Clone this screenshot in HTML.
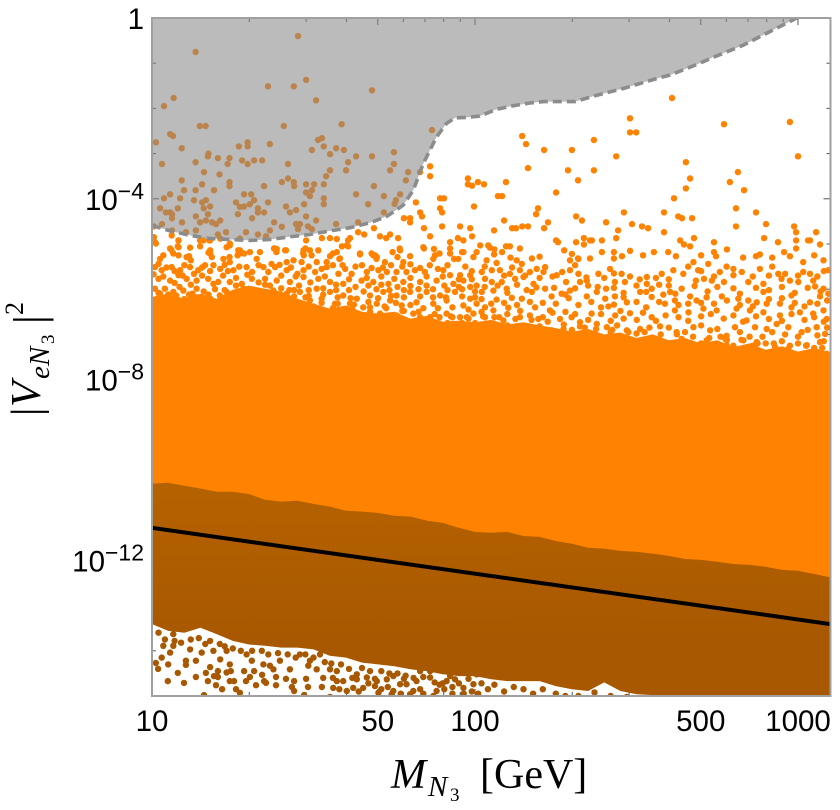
<!DOCTYPE html>
<html lang="en">
<head>
<meta charset="utf-8">
<title>Mixing versus heavy neutrino mass</title>
<style>
html,body{margin:0;padding:0;background:#fff;width:840px;height:810px;overflow:hidden}
svg{display:block}
.tick-label{font-family:"Liberation Sans",sans-serif;fill:#000}
.title{font-family:"Liberation Serif",serif;fill:#000}
</style>
</head>
<body>
<svg id="chart" xmlns="http://www.w3.org/2000/svg" width="840" height="810" viewBox="0 0 840 810">
  <defs>
    <clipPath id="plot-clip"><rect x="152" y="18" width="678.5" height="678"/></clipPath>
    <linearGradient id="brown-fill" gradientUnits="userSpaceOnUse" x1="0" y1="480" x2="0" y2="640">
      <stop offset="0" stop-color="#b56200"/><stop offset="1" stop-color="#a85800"/>
    </linearGradient>
  </defs>
  <rect x="0" y="0" width="840" height="810" fill="#fff"/>
  <g id="ticks"></g>
  <g id="marks" clip-path="url(#plot-clip)"></g>
  <g id="labels"></g>

  <g>
    <text class="title" x="391" y="788" font-size="42" font-style="italic">M</text>
    <text class="title" x="428" y="796" font-size="29" font-style="italic">N</text>
    <text class="title" x="450" y="801" font-size="19">3</text>
    <text class="title" x="480" y="788" font-size="42">[GeV]</text>
  </g>
  <g>
    <text class="title" transform="translate(40,416) rotate(-90)" font-size="42">|</text>
    <text class="title" transform="translate(40,407) rotate(-90)" font-size="42" font-style="italic">V</text>
    <text class="title" transform="translate(49,379) rotate(-90)" font-size="29" font-style="italic">e</text>
    <text class="title" transform="translate(49,366) rotate(-90)" font-size="29" font-style="italic">N</text>
    <text class="title" transform="translate(54,344) rotate(-90)" font-size="19">3</text>
    <text class="title" transform="translate(44,324) rotate(-90)" font-size="44">|</text>
    <text class="title" transform="translate(23,315) rotate(-90)" font-size="26">2</text>
  </g>
</svg>
<script>
// Axis ranges, in log10 units
const logMassRange = [1, 3.1006];
const logMixingRange = [0, -15];

// Tick data
const xMajorTicks = [10, 50, 100, 500, 1000];
const xMinorTicks = [20, 30, 40, 60, 70, 80, 90, 200, 300, 400, 600, 700, 800, 900];
const yTickExponents = [0, -1, -2, -3, -4, -5, -6, -7, -8, -9, -10, -11, -12, -13, -14];
const yLabelExponents = [0, -4, -8, -12];

// Densely filled bands: log10(mass) and log10(|V|^2) envelopes
const bandLogMass = [1.00,1.05,1.10,1.15,1.20,1.25,1.30,1.35,1.40,1.45,1.50,1.55,1.60,1.65,1.70,1.75,1.80,1.85,1.90,1.95,2.00,2.05,2.10,2.15,2.20,2.25,2.30,2.35,2.40,2.45,2.50,2.55,2.60,2.65,2.70,2.75,2.80,2.85,2.90,2.95,3.00,3.05,3.11];
const orangeTop = [-6.17,-6.10,-6.21,-6.10,-6.21,-6.01,-5.92,-5.99,-6.05,-6.21,-6.32,-6.43,-6.36,-6.50,-6.54,-6.50,-6.65,-6.59,-6.72,-6.70,-6.73,-6.68,-6.78,-6.73,-6.80,-6.86,-6.94,-6.88,-7.00,-6.96,-7.08,-7.00,-7.13,-7.08,-7.20,-7.13,-7.28,-7.20,-7.34,-7.26,-7.38,-7.30,-7.43];
const brownTop = [-10.30,-10.28,-10.35,-10.41,-10.48,-10.48,-10.53,-10.66,-10.70,-10.68,-10.75,-10.81,-10.90,-10.92,-10.95,-11.01,-11.03,-11.12,-11.17,-11.28,-11.37,-11.39,-11.37,-11.46,-11.48,-11.57,-11.63,-11.72,-11.74,-11.79,-11.81,-11.85,-11.90,-11.97,-11.99,-12.03,-12.08,-12.10,-12.14,-12.21,-12.23,-12.30,-12.39];
const brownBottom = [-13.41,-13.56,-13.60,-13.49,-13.63,-13.78,-13.86,-13.89,-13.93,-13.93,-13.97,-14.11,-14.15,-14.26,-14.30,-14.34,-14.41,-14.45,-14.52,-14.56,-14.56,-14.63,-14.67,-14.67,-14.67,-14.78,-14.85,-14.89,-14.70,-14.89,-14.96,-14.98,-15.00,-15.1,-15.1,-15.1,-15.1,-15.1,-15.1,-15.1,-15.1,-15.1,-15.1];

// Excluded region boundary
const boundaryLogMass = [1.000,1.056,1.118,1.180,1.241,1.303,1.365,1.427,1.489,1.551,1.613,1.675,1.727,1.778,1.809,1.840,1.881,1.912,1.938,1.974,2.015,2.067,2.119,2.170,2.212,2.263,2.310,2.366,2.459,2.552,2.604,2.686,2.738,2.831,2.913,2.996];
const boundaryLogMixing = [-4.59,-4.71,-4.81,-4.88,-4.90,-4.92,-4.90,-4.84,-4.79,-4.71,-4.64,-4.53,-4.39,-4.14,-3.81,-3.22,-2.63,-2.33,-2.21,-2.20,-2.17,-2.02,-1.94,-1.88,-1.85,-1.85,-1.85,-1.73,-1.56,-1.36,-1.26,-1.03,-0.87,-0.60,-0.30,0];

// Seesaw line
const lineLogMass = [1, 3.1006];
const lineLogMixing = [-11.28, -13.41];

// Individually resolved scatter points: [log10 mass, log10 |V|^2]
const excludedPoints = [[1.452,-0.40],[1.135,-0.75],[1.359,-1.51],[1.439,-1.51],[1.477,-1.37],[1.681,-1.60],[1.067,-1.77],[1.037,-1.95],[1.508,-1.82],[1.148,-2.39],[1.166,-2.39],[1.408,-2.39],[1.587,-2.35],[1.867,-2.48],[1.056,-2.57],[1.065,-2.61],[1.012,-2.75],[1.092,-2.88],[1.269,-2.84],[1.296,-2.75],[1.296,-2.84],[1.365,-2.79],[1.514,-2.70],[1.526,-2.66],[1.532,-2.84],[1.495,-2.92],[1.570,-2.88],[1.594,-2.92],[1.551,-3.01],[1.632,-3.06],[1.681,-3.06],[1.749,-2.97],[1.175,-3.00],[1.173,-3.06],[1.204,-3.10],[1.240,-3.10],[1.279,-3.15],[1.316,-3.15],[1.341,-3.15],[1.031,-3.23],[1.135,-3.19],[1.234,-3.23],[1.296,-3.23],[1.421,-3.23],[1.607,-3.19],[1.749,-3.23],[1.737,-3.37],[1.601,-3.37],[1.551,-3.37],[1.161,-3.41],[1.209,-3.46],[1.793,-3.41],[1.830,-3.41],[1.539,-3.50],[1.092,-3.59],[1.421,-3.55],[1.402,-3.63],[1.439,-3.63],[1.477,-3.68],[1.502,-3.68],[1.532,-3.68],[1.155,-3.68],[1.240,-3.63],[1.240,-3.72],[1.347,-3.72],[1.440,-3.72],[1.687,-3.72],[1.786,-3.59],[1.099,-3.81],[1.135,-3.81],[1.192,-3.81],[1.495,-3.81],[1.477,-3.86],[1.056,-3.90],[1.037,-3.99],[1.087,-3.99],[1.285,-3.90],[1.307,-3.90],[1.489,-3.94],[1.632,-3.90],[1.718,-3.94],[1.768,-3.90],[1.532,-3.99],[1.130,-4.03],[1.155,-4.08],[1.167,-4.03],[1.260,-4.08],[1.316,-4.03],[1.359,-4.08],[1.755,-4.03],[1.751,-4.11],[1.669,-4.12],[1.471,-4.12],[1.532,-4.12],[1.180,-4.17],[1.272,-4.18],[1.285,-4.17],[1.303,-4.12],[1.415,-4.17],[1.025,-4.21],[1.080,-4.21],[1.160,-4.21],[1.328,-4.21],[1.328,-4.30],[1.347,-4.30],[1.427,-4.30],[1.446,-4.25],[1.043,-4.30],[1.056,-4.30],[1.062,-4.34],[1.062,-4.43],[1.173,-4.34],[1.136,-4.39],[1.266,-4.34],[1.477,-4.39],[1.310,-4.43],[1.718,-4.30],[1.093,-4.52],[1.149,-4.52],[1.167,-4.48],[1.186,-4.52],[1.198,-4.56],[1.211,-4.48],[1.378,-4.52],[1.402,-4.62],[1.446,-4.56],[1.458,-4.56],[1.452,-4.67],[1.483,-4.61],[1.495,-4.67],[1.508,-4.48],[1.570,-4.56],[1.638,-4.52],[1.031,-4.56],[1.006,-4.61],[1.062,-4.70],[1.105,-4.74],[1.136,-4.70],[1.204,-4.79],[1.229,-4.74],[1.291,-4.74],[1.328,-4.79],[1.365,-4.70],[1.353,-4.83],[1.211,-4.88],[1.272,-4.88]];

const upperRightPoints = [[2.610,-1.77],[2.480,-2.22],[2.480,-2.53],[2.499,-2.53],[2.771,-2.35],[2.975,-2.30],[3.000,-3.06],[2.146,-2.61],[2.158,-2.79],[2.214,-2.92],[2.300,-2.92],[2.368,-2.70],[2.437,-3.06],[2.653,-3.19],[2.164,-3.32],[2.288,-3.37],[2.368,-3.37],[2.814,-3.41],[2.666,-3.55],[2.096,-3.63],[2.028,-3.68],[2.319,-3.59],[2.789,-3.63],[2.653,-3.77],[2.833,-3.81],[2.251,-3.86],[2.071,-3.94],[2.084,-3.94],[2.616,-3.99],[2.195,-4.21],[2.808,-4.21],[2.189,-4.34],[2.461,-4.30],[2.585,-4.30],[2.870,-4.30],[2.313,-4.39],[2.629,-4.39],[2.641,-4.43],[2.672,-4.43],[2.331,-4.48],[2.090,-4.48],[2.226,-4.52],[2.406,-4.52],[2.486,-4.56],[2.901,-4.56],[2.115,-4.65],[2.127,-4.65],[2.146,-4.61],[2.164,-4.61],[2.214,-4.65],[2.517,-4.61],[2.536,-4.65],[2.808,-4.61],[2.988,-4.61],[2.059,-4.70],[2.443,-4.70],[2.585,-4.74],[2.994,-4.74],[3.056,-4.74],[2.337,-4.87],[2.678,-4.87],[2.895,-4.87],[2.437,-4.87],[2.251,-4.92],[2.257,-4.96],[2.313,-4.96],[2.356,-4.92],[2.362,-4.92],[2.393,-4.92],[2.635,-4.92],[2.938,-4.96],[2.740,-4.96],[2.994,-4.92],[3.031,-4.92],[3.037,-4.92],[3.068,-5.01],[2.647,-5.01],[2.666,-5.05],[2.337,-5.01],[2.994,-5.10],[2.139,-5.10],[2.096,-5.05],[2.108,-5.05],[2.276,-5.14],[2.016,-5.03],[2.041,-5.03],[2.046,-5.08],[2.084,-5.18],[2.059,-5.23],[2.393,-5.18],[2.430,-5.18],[2.554,-5.18],[2.598,-5.18],[2.740,-5.18],[2.957,-5.18],[2.882,-5.23],[2.870,-5.27],[2.975,-5.27],[2.622,-5.27],[2.746,-5.27],[2.455,-5.27],[2.176,-5.32],[2.319,-5.32],[2.356,-5.32],[2.430,-5.32]];

const midLeftPoints = [[1.861,-3.28],[1.861,-3.50],[1.978,-3.55],[1.978,-3.68],[1.991,-3.71],[2.009,-3.63],[1.892,-3.99],[1.904,-3.99],[1.817,-4.08],[1.997,-4.17],[1.892,-4.21],[1.898,-4.30],[1.830,-4.30],[1.836,-4.39],[1.780,-4.43],[1.799,-4.43],[1.799,-4.52],[1.898,-4.61],[1.954,-4.61],[1.842,-4.65],[1.985,-4.65],[1.687,-4.65],[1.638,-4.74],[1.657,-4.79],[1.861,-4.83],[1.991,-4.83],[1.947,-4.87],[1.964,-4.92],[1.706,-4.83],[1.725,-4.87],[1.737,-4.79],[1.762,-4.87],[1.613,-4.87],[1.607,-4.92],[1.572,-4.89],[1.551,-4.87],[1.526,-4.87],[1.477,-4.92],[1.923,-4.96],[1.607,-5.05],[1.588,-5.05],[1.842,-5.10],[1.923,-5.10],[2.005,-5.18],[1.960,-5.18],[1.873,-5.11],[1.767,-5.10],[1.799,-5.27],[1.690,-5.25],[1.644,-5.23],[1.551,-5.27],[1.582,-5.32],[1.489,-5.14],[1.468,-5.21],[1.415,-5.14],[1.378,-5.10],[1.386,-5.11],[1.334,-5.18],[1.272,-5.14],[1.241,-5.03],[1.231,-5.07],[1.180,-5.14],[1.149,-5.05],[1.082,-4.92],[1.082,-5.07],[1.056,-5.10],[1.118,-5.08],[1.012,-4.99],[1.006,-4.85],[1.061,-4.81],[1.159,-4.92],[1.180,-4.92]];

const fringeLeftPoints = [[1.009,-4.96],[1.082,-4.92],[1.149,-4.92],[1.177,-4.92],[1.241,-4.99],[1.267,-5.14],[1.303,-5.18],[1.378,-5.10],[1.412,-5.14],[1.469,-5.14],[1.494,-5.25],[1.515,-5.14],[1.572,-5.18],[1.603,-5.03],[1.644,-5.21],[1.685,-5.25],[1.768,-5.14],[1.840,-5.07],[1.876,-5.25],[1.923,-5.21],[1.964,-5.18],[1.035,-5.25],[1.025,-5.33],[1.066,-5.21],[1.082,-5.25],[1.107,-5.29],[1.180,-5.21],[1.221,-5.33],[1.241,-5.40],[1.272,-5.21],[1.324,-5.33],[1.370,-5.44],[1.417,-5.40],[1.438,-5.36],[1.463,-5.40],[1.510,-5.40],[1.541,-5.40],[1.696,-5.29],[1.721,-5.40],[1.778,-5.40],[1.871,-5.33],[1.948,-5.33],[1.995,-5.29],[1.009,-5.51],[1.030,-5.58],[1.061,-5.51],[1.087,-5.58],[1.118,-5.51],[1.143,-5.58],[1.164,-5.47],[1.190,-5.47],[1.211,-5.55],[1.252,-5.58],[1.293,-5.51],[1.345,-5.51],[1.381,-5.51],[1.417,-5.58],[1.469,-5.58],[1.505,-5.62],[1.541,-5.51],[1.577,-5.66],[1.598,-5.55],[1.618,-5.66],[1.665,-5.62],[1.701,-5.58],[1.727,-5.62],[1.757,-5.62],[1.788,-5.62],[1.814,-5.58],[1.845,-5.62],[1.902,-5.58],[1.923,-5.69],[1.954,-5.69],[1.985,-5.69],[1.020,-5.77],[1.056,-5.81],[1.082,-5.69],[1.107,-5.77],[1.138,-5.81],[1.174,-5.77],[1.205,-5.84],[1.241,-5.84],[1.278,-5.88],[1.309,-5.77],[1.350,-5.77],[1.386,-5.81],[1.427,-5.84],[1.469,-5.73],[1.515,-5.77],[1.551,-5.84],[1.592,-5.88],[1.649,-5.81],[1.685,-5.84],[1.732,-5.88],[1.778,-5.84],[1.830,-5.84],[1.881,-5.81],[1.933,-5.88],[1.964,-5.81],[2.005,-5.92],[1.009,-5.99],[1.040,-5.99],[1.066,-6.06],[1.097,-6.03],[1.138,-5.99],[1.180,-6.21],[1.231,-6.06],[1.283,-5.99],[1.334,-6.06],[1.376,-6.03],[1.417,-6.10],[1.458,-6.06],[1.510,-5.99],[1.551,-6.06],[1.592,-6.14],[1.634,-6.21],[1.675,-6.14],[1.716,-6.06],[1.757,-6.14],[1.799,-6.06],[1.850,-6.06],[1.892,-6.14],[1.938,-6.06],[1.985,-6.21],[1.489,-6.25],[1.525,-6.21],[1.567,-6.32],[1.613,-6.32],[1.654,-6.40],[1.696,-6.32],[1.737,-6.25],[1.773,-6.36],[1.819,-6.29],[1.871,-6.32],[1.912,-6.25],[1.964,-6.36],[2.005,-6.32],[1.479,-6.47],[1.541,-6.54],[1.592,-6.54],[1.654,-6.62],[1.706,-6.54],[1.757,-6.58],[1.809,-6.54],[1.861,-6.62],[1.912,-6.54],[1.954,-6.62],[1.995,-6.54],[1.685,-6.77],[1.727,-6.77],[1.788,-6.77],[1.840,-6.73],[1.892,-6.77],[1.933,-6.77],[1.985,-6.80]];

const fringeRightPoints = [[2.036,-5.36],[2.067,-5.42],[2.052,-5.58],[2.077,-5.58],[2.021,-5.62],[2.145,-5.44],[2.129,-5.36],[2.108,-5.66],[2.139,-5.58],[2.191,-5.55],[2.217,-5.51],[2.212,-5.62],[2.294,-5.36],[2.320,-5.33],[2.294,-5.58],[2.320,-5.66],[2.382,-5.66],[2.418,-5.55],[2.454,-5.66],[2.578,-5.66],[2.614,-5.58],[2.645,-5.66],[2.676,-5.40],[2.691,-5.58],[2.722,-5.44],[2.758,-5.62],[2.779,-5.50],[2.800,-5.69],[2.826,-5.62],[2.882,-5.55],[2.939,-5.66],[2.960,-5.66],[3.016,-5.62],[3.037,-5.66],[3.016,-5.40],[3.079,-5.36],[3.094,-5.58],[2.031,-5.77],[2.052,-5.84],[2.083,-5.84],[2.124,-5.77],[2.150,-5.73],[2.181,-5.88],[2.217,-5.99],[2.253,-5.69],[2.282,-5.84],[2.325,-5.84],[2.346,-5.81],[2.406,-5.99],[2.433,-5.84],[2.464,-5.84],[2.532,-5.73],[2.532,-5.88],[2.547,-5.99],[2.640,-5.99],[2.684,-5.81],[2.709,-5.77],[2.733,-5.81],[2.771,-5.84],[2.846,-5.84],[2.893,-5.88],[2.949,-5.77],[2.975,-5.81],[3.001,-5.84],[3.047,-5.81],[3.053,-5.94],[3.079,-5.99],[2.021,-6.06],[2.057,-6.03],[2.098,-5.99],[2.067,-6.23],[2.114,-6.19],[2.145,-6.21],[2.176,-6.06],[2.237,-6.16],[2.268,-6.10],[2.294,-6.03],[2.346,-6.16],[2.377,-6.06],[2.403,-6.21],[2.433,-6.16],[2.470,-6.29],[2.511,-6.06],[2.547,-6.17],[2.583,-6.12],[2.604,-6.06],[2.588,-6.32],[2.619,-6.25],[2.666,-6.16],[2.686,-6.25],[2.717,-6.18],[2.764,-6.16],[2.815,-6.21],[2.846,-6.25],[2.872,-6.29],[2.893,-6.06],[2.903,-6.32],[2.944,-6.32],[2.980,-6.14],[3.037,-6.29],[3.068,-6.16],[3.094,-6.10],[2.031,-6.40],[2.057,-6.47],[2.103,-6.41],[2.031,-6.62],[2.088,-6.69],[2.139,-6.62],[2.186,-6.40],[2.196,-6.66],[2.232,-6.47],[2.263,-6.66],[2.299,-6.62],[2.325,-6.73],[2.361,-6.54],[2.413,-6.38],[2.434,-6.58],[2.480,-6.53],[2.501,-6.68],[2.547,-6.62],[2.619,-6.47],[2.661,-6.51],[2.707,-6.43],[2.748,-6.47],[2.810,-6.43],[2.851,-6.47],[2.893,-6.51],[2.944,-6.58],[2.980,-6.40],[3.006,-6.51],[3.047,-6.54],[3.079,-6.47],[3.089,-6.66],[2.057,-6.84],[2.139,-6.84],[2.237,-6.91],[2.274,-6.88],[2.377,-6.77],[2.408,-6.84],[2.470,-6.91],[2.511,-6.88],[2.573,-6.82],[2.624,-6.95],[2.676,-6.84],[2.728,-6.91],[2.779,-7.03],[2.805,-6.84],[2.841,-6.69],[2.867,-6.84],[2.903,-6.88],[2.934,-6.77],[2.970,-6.84],[3.011,-6.95],[3.058,-6.84],[3.084,-6.99],[2.655,-7.17],[2.717,-7.13],[2.779,-7.24],[2.831,-7.13],[2.872,-7.17],[2.929,-7.28],[2.970,-7.32],[3.027,-7.24],[3.068,-7.17],[3.089,-7.43]];

const denseLeftPoints = [[1.06,-5.13],[1.08,-5.05],[1.115,-5.27],[1.12,-5.36],[1.175,-5.19],[1.185,-5.29],[1.24,-5.29],[1.265,-5.25],[1.285,-5.21],[1.385,-5.18],[1.47,-5.25],[1.475,-5.10],[1.56,-5.21],[1.58,-5.33],[1.68,-5.21],[1.695,-5.33],[1.745,-5.18],[1.76,-5.29],[1.89,-5.21],[1.935,-5.33],[1.02,-5.44],[1.045,-5.52],[1.07,-5.60],[1.10,-5.47],[1.13,-5.66],[1.155,-5.52],[1.18,-5.60],[1.225,-5.46],[1.235,-5.60],[1.27,-5.50],[1.31,-5.62],[1.33,-5.47],[1.36,-5.62],[1.395,-5.46],[1.43,-5.52],[1.45,-5.66],[1.485,-5.50],[1.525,-5.55],[1.56,-5.47],[1.59,-5.47],[1.63,-5.50],[1.65,-5.47],[1.68,-5.53],[1.715,-5.52],[1.74,-5.47],[1.775,-5.50],[1.80,-5.45],[1.83,-5.53],[1.86,-5.47],[1.885,-5.55],[1.915,-5.47],[1.97,-5.50],[1.99,-5.60],[1.005,-5.67],[1.035,-5.72],[1.07,-5.86],[1.095,-5.70],[1.12,-5.90],[1.155,-5.70],[1.19,-5.88],[1.22,-5.70],[1.26,-5.75],[1.26,-5.92],[1.295,-5.68],[1.33,-5.85],[1.365,-5.92],[1.40,-5.70],[1.445,-5.72],[1.455,-5.92],[1.49,-5.85],[1.535,-5.72],[1.57,-5.90],[1.61,-5.78],[1.63,-5.95],[1.665,-5.75],[1.67,-5.92],[1.71,-5.72],[1.71,-5.90],[1.75,-5.77],[1.76,-5.95],[1.80,-5.75],[1.80,-5.93],[1.85,-5.72],[1.85,-5.92],[1.90,-5.72],[1.905,-5.92],[1.95,-5.78],[1.95,-5.95],[1.99,-5.78],[1.985,-5.95],[1.02,-6.08],[1.05,-6.12],[1.085,-5.95],[1.115,-6.12],[1.16,-6.05],[1.195,-6.00],[1.21,-6.14],[1.25,-6.10],[1.30,-6.02],[1.31,-6.15],[1.36,-6.12],[1.40,-5.98],[1.44,-6.02],[1.44,-6.16],[1.485,-6.02],[1.485,-6.15],[1.53,-5.98],[1.53,-6.12],[1.57,-6.02],[1.575,-6.18],[1.61,-6.02],[1.615,-6.20],[1.655,-6.05],[1.695,-6.00],[1.70,-6.20],[1.735,-6.02],[1.74,-6.15],[1.78,-6.02],[1.78,-6.18],[1.825,-6.00],[1.83,-6.16],[1.87,-6.00],[1.87,-6.18],[1.915,-6.02],[1.91,-6.18],[1.96,-6.00],[1.96,-6.16],[2.00,-6.05],[2.00,-6.18],[1.45,-6.30],[1.50,-6.38],[1.52,-6.50],[1.56,-6.42],[1.575,-6.60],[1.62,-6.45],[1.62,-6.60],[1.67,-6.28],[1.675,-6.50],[1.72,-6.38],[1.73,-6.62],[1.755,-6.30],[1.78,-6.48],[1.80,-6.35],[1.83,-6.62],[1.84,-6.42],[1.885,-6.42],[1.89,-6.62],[1.93,-6.40],[1.93,-6.62],[1.98,-6.45],[1.98,-6.65],[2.00,-6.75],[1.70,-6.72],[1.76,-6.75],[1.81,-6.78],[1.865,-6.80],[1.915,-6.75],[1.96,-6.75],[1.02,-6.2],[1.1,-6.22],[1.14,-6.18],[1.22,-6.22],[1.27,-6.15],[1.33,-6.25],[1.38,-6.2]];

const denseRightPoints = [[2.03,-5.50],[2.09,-5.70],[2.115,-5.52],[2.155,-5.70],[2.17,-5.62],[2.20,-5.75],[2.24,-5.72],[2.27,-5.62],[2.31,-5.47],[2.345,-5.74],[2.40,-5.75],[2.43,-5.65],[2.48,-5.72],[2.51,-5.78],[2.56,-5.75],[2.60,-5.78],[2.66,-5.50],[2.70,-5.60],[2.74,-5.72],[2.80,-5.55],[2.86,-5.72],[2.91,-5.70],[2.92,-5.50],[3.00,-5.70],[3.06,-5.72],[3.08,-5.60],[2.03,-5.95],[2.07,-5.92],[2.10,-6.08],[2.13,-5.90],[2.16,-6.02],[2.19,-5.96],[2.245,-5.97],[2.28,-6.12],[2.31,-5.98],[2.35,-5.92],[2.38,-5.95],[2.43,-5.97],[2.46,-6.08],[2.50,-5.92],[2.53,-6.06],[2.57,-5.90],[2.60,-5.92],[2.62,-6.10],[2.68,-5.93],[2.72,-6.05],[2.75,-5.95],[2.80,-5.98],[2.82,-6.10],[2.87,-5.97],[2.91,-6.02],[2.95,-5.95],[2.99,-6.08],[3.03,-5.97],[3.07,-6.05],[2.02,-6.22],[2.05,-6.32],[2.09,-6.30],[2.13,-6.35],[2.17,-6.28],[2.21,-6.30],[2.25,-6.32],[2.29,-6.20],[2.32,-6.35],[2.36,-6.28],[2.39,-6.40],[2.43,-6.34],[2.46,-6.18],[2.50,-6.28],[2.53,-6.40],[2.57,-6.28],[2.63,-6.35],[2.66,-6.32],[2.70,-6.30],[2.74,-6.32],[2.78,-6.25],[2.82,-6.35],[2.86,-6.38],[2.91,-6.22],[2.95,-6.20],[2.99,-6.30],[3.02,-6.38],[3.06,-6.32],[3.09,-6.25],[2.02,-6.50],[2.06,-6.62],[2.10,-6.55],[2.14,-6.48],[2.17,-6.58],[2.21,-6.62],[2.24,-6.52],[2.28,-6.50],[2.31,-6.55],[2.35,-6.68],[2.39,-6.55],[2.42,-6.70],[2.45,-6.48],[2.46,-6.65],[2.52,-6.52],[2.56,-6.70],[2.59,-6.58],[2.63,-6.62],[2.66,-6.70],[2.70,-6.60],[2.73,-6.55],[2.77,-6.65],[2.80,-6.58],[2.83,-6.72],[2.87,-6.60],[2.91,-6.66],[2.95,-6.70],[2.98,-6.55],[3.02,-6.68],[3.05,-6.62],[3.08,-6.72],[2.03,-6.85],[2.10,-6.80],[2.16,-6.85],[2.20,-6.82],[2.30,-6.90],[2.34,-6.85],[2.42,-6.95],[2.44,-6.80],[2.50,-6.98],[2.54,-6.85],[2.60,-6.85],[2.65,-6.95],[2.70,-6.80],[2.75,-6.88],[2.78,-7.12],[2.82,-6.95],[2.85,-7.05],[2.89,-7.05],[2.92,-6.95],[2.96,-7.00],[3.00,-7.05],[3.03,-6.90],[3.06,-7.02],[3.09,-6.85],[2.64,-7.10],[2.70,-7.20],[2.76,-7.05],[2.80,-7.25],[2.86,-7.25],[2.90,-7.20],[2.95,-7.15],[3.00,-7.20],[3.05,-7.30],[3.08,-7.15],[2.06,-5.12],[2.11,-5.30],[2.20,-5.28],[2.30,-5.22],[2.48,-5.15],[2.52,-5.25],[2.70,-5.25],[2.78,-5.12],[2.83,-5.30],[2.92,-5.30],[3.05,-5.25]];

const bandEdgePoints = [[1.025,-6.1],[1.075,-6.14],[1.125,-6.1],[1.175,-6.12],[1.225,-6.02],[1.35,-5.9],[1.425,-6.02],[1.475,-6.18],[1.525,-6.3],[1.575,-6.32],[1.625,-6.34],[1.675,-6.4],[1.725,-6.42],[1.775,-6.48],[1.825,-6.5],[1.875,-6.55],[1.925,-6.6],[1.975,-6.62],[2.025,-6.6],[2.075,-6.62],[2.125,-6.66],[2.175,-6.68],[2.225,-6.72],[2.275,-6.78],[2.325,-6.82],[2.375,-6.88],[2.425,-6.9],[2.475,-6.95],[2.525,-6.95],[2.575,-7.0],[2.625,-7.0],[2.675,-7.05],[2.725,-7.08],[2.775,-7.1],[2.825,-7.12],[2.875,-7.2],[2.925,-7.2],[2.975,-7.25],[3.025,-7.25],[3.075,-7.3]];

const brownPoints = [[1.049,-14.67],[1.099,-14.71],[1.136,-14.58],[1.080,-14.49],[1.019,-14.40],[1.012,-14.27],[1.050,-14.30],[1.105,-14.22],[1.105,-14.31],[1.136,-14.22],[1.180,-14.36],[1.167,-14.49],[1.204,-14.45],[1.192,-14.56],[1.204,-14.58],[1.173,-14.67],[1.198,-14.76],[1.217,-14.85],[1.241,-14.67],[1.254,-14.67],[1.260,-14.85],[1.272,-14.93],[1.161,-14.98],[1.241,-14.30],[1.231,-14.48],[1.244,-14.45],[1.285,-14.45],[1.291,-14.67],[1.303,-14.58],[1.322,-14.76],[1.316,-14.45],[1.341,-14.53],[1.347,-14.67],[1.353,-14.71],[1.384,-14.76],[1.384,-14.58],[1.415,-14.62],[1.440,-14.67],[1.433,-14.80],[1.440,-14.89],[1.477,-14.62],[1.483,-14.80],[1.471,-14.98],[1.526,-14.80],[1.551,-15.02],[1.510,-14.41],[1.489,-14.22],[1.484,-14.33],[1.427,-14.41],[1.376,-14.41],[1.365,-14.33],[1.345,-14.30],[1.309,-14.22],[1.211,-14.19],[1.056,-14.04],[1.030,-14.15],[1.066,-13.63],[1.035,-13.89],[1.066,-13.89],[1.118,-13.97],[1.154,-14.04],[1.190,-14.00],[1.231,-14.00],[1.293,-14.08],[1.396,-14.22],[1.458,-14.08],[1.520,-14.08],[1.551,-14.41],[1.572,-14.45],[1.592,-14.67],[1.572,-14.67],[1.561,-14.82],[1.603,-14.89],[1.634,-14.52],[1.634,-14.63],[1.623,-14.82],[1.654,-14.82],[1.665,-14.59],[1.690,-14.78],[1.701,-14.93],[1.747,-14.89],[1.727,-14.63],[1.747,-14.56],[1.768,-14.74],[1.788,-14.74],[1.809,-14.89],[1.819,-14.67],[1.861,-14.59],[1.881,-14.89],[1.912,-14.67],[1.938,-14.63],[1.964,-14.82],[1.995,-14.74],[2.005,-14.52],[1.979,-14.45],[1.923,-14.56],[1.861,-14.45],[1.830,-14.45],[1.696,-14.67],[1.742,-14.96],[1.871,-15.00],[1.799,-14.96]];

const brownEdgePoints = [[1.02,-13.6],[1.04,-13.75],[1.07,-13.78],[1.09,-13.82],[1.12,-13.75],[1.145,-13.72],[1.165,-13.85],[1.18,-13.78],[1.21,-13.85],[1.225,-13.9],[1.25,-13.95],[1.275,-14.0],[1.31,-14.0],[1.34,-14.0],[1.36,-14.08],[1.39,-14.05],[1.42,-14.08],[1.445,-14.15],[1.475,-14.08],[1.50,-14.15],[1.535,-14.25],[1.555,-14.28],[1.585,-14.3],[1.61,-14.4],[1.65,-14.38],[1.675,-14.45],[1.71,-14.45],[1.735,-14.5],[1.76,-14.5],[1.785,-14.55],[1.81,-14.6],[1.84,-14.58],[1.875,-14.7],[1.90,-14.72],[1.93,-14.8],[1.95,-14.72],[1.98,-14.62],[2.02,-14.72],[2.04,-14.85],[2.06,-14.75],[2.09,-14.9],[2.12,-14.8],[2.15,-14.85],[2.18,-14.95],[2.21,-14.85],[2.25,-14.95],[2.28,-15.0],[2.32,-15.0],[2.37,-14.92],[2.42,-15.0],[2.47,-15.02],[1.53,-14.6],[1.56,-14.6],[1.58,-14.85],[1.64,-14.9],[1.67,-14.72],[1.71,-14.85],[1.73,-14.8],[1.77,-14.95],[1.83,-14.85],[1.84,-14.95],[1.89,-14.75],[1.905,-14.85],[1.93,-14.95],[1.965,-14.95],[1.99,-14.9],[2.01,-14.95],[1.78,-14.62],[1.62,-14.6],[1.69,-14.62]];

const NS = 'http://www.w3.org/2000/svg';
const plotLeft = 152, plotRight = 830.5, plotTop = 18, plotBottom = 696;
const ORANGE = '#ff8200', DOT_R = 3.2;

function xScale(logM) {
  return plotLeft + (logM - logMassRange[0]) / (logMassRange[1] - logMassRange[0]) * (plotRight - plotLeft);
}
function yScale(logV) {
  return plotTop + (logV - logMixingRange[0]) / (logMixingRange[1] - logMixingRange[0]) * (plotBottom - plotTop);
}
function make(tag, attrs, parent) {
  const el = document.createElementNS(NS, tag);
  for (const k in attrs) el.setAttribute(k, attrs[k]);
  parent.appendChild(el);
  return el;
}
function coords(xs, ys) {
  return xs.map((m, i) => xScale(m).toFixed(1) + ',' + yScale(ys[i]).toFixed(1));
}

const ticksG = document.getElementById('ticks');
const marksG = document.getElementById('marks');
const labelsG = document.getElementById('labels');

// ticks
xMajorTicks.concat(xMinorTicks).forEach(v => {
  const x = xScale(Math.log10(v));
  const len = xMajorTicks.includes(v) ? 7 : 4;
  [[plotTop, plotTop + len], [plotBottom, plotBottom - len]].forEach(p => {
    const t = make('line', {x1: x, x2: x, y1: p[0], y2: p[1], stroke: '#555', 'stroke-width': 1}, ticksG);
    
    
  });
});
yTickExponents.forEach(e => {
  const y = yScale(e);
  const len = yLabelExponents.includes(e) ? 7 : 4;
  [[plotLeft, plotLeft + len], [plotRight, plotRight - len]].forEach(p => {
    const t = make('line', {x1: p[0], x2: p[1], y1: y, y2: y, stroke: '#555', 'stroke-width': 1}, ticksG);
    
    
  });
});

// orange band down to just below the top of the brown region
const orangeBand = make('polygon', {
  points: coords(bandLogMass, orangeTop).concat(coords(bandLogMass.slice().reverse(), brownTop.slice().reverse().map(v => v - 1))).join(' '),
  fill: ORANGE
}, marksG);



// orange scatter points
[upperRightPoints, midLeftPoints, fringeLeftPoints, fringeRightPoints, denseLeftPoints, denseRightPoints, bandEdgePoints, excludedPoints].forEach(group => {
  group.forEach(p => {
    const c = make('circle', {cx: xScale(p[0]).toFixed(1), cy: yScale(p[1]).toFixed(1), r: DOT_R, fill: ORANGE}, marksG);
    
    
  });
});

// brown band
const brownBand = make('polygon', {
  points: coords(bandLogMass, brownTop).concat(coords(bandLogMass.slice().reverse(), brownBottom.slice().reverse())).join(' '),
  fill: 'url(#brown-fill)'
}, marksG);



[brownPoints, brownEdgePoints].forEach(group => {
  group.forEach(p => {
    const c = make('circle', {cx: xScale(p[0]).toFixed(1), cy: yScale(p[1]).toFixed(1), r: DOT_R, fill: '#a85800'}, marksG);
    
    
  });
});

// excluded region
const regionPts = coords(boundaryLogMass, boundaryLogMixing);
const region = make('polygon', {
  points: [xScale(logMassRange[0]) + ',' + yScale(0)].concat(regionPts).join(' '),
  fill: 'rgb(135,135,135)', 'fill-opacity': 0.565
}, marksG);



const boundary = make('polyline', {
  points: regionPts.join(' '), fill: 'none', stroke: '#8c8c8c', 'stroke-width': 3.6, 'stroke-dasharray': '9 5'
}, marksG);



// black line
const seesaw = make('polyline', {
  points: coords(lineLogMass, lineLogMixing).join(' '), fill: 'none', stroke: '#000', 'stroke-width': 4
}, marksG);



// frame
const frame = make('rect', {
  x: plotLeft, y: plotTop, width: plotRight - plotLeft, height: plotBottom - plotTop,
  fill: 'none', stroke: '#a0a0a0', 'stroke-width': 2
}, labelsG);



// x labels
xMajorTicks.forEach(v => {
  const x = xScale(Math.log10(v));
  const endClamp = Math.min(x, 832 - String(v).length * 8.2);
  const t = make('text', {x: endClamp, y: 731, 'text-anchor': 'middle', 'font-size': 29.5, class: 'tick-label'}, labelsG);
  t.textContent = String(v);
  
  
});

// y labels
yLabelExponents.forEach(e => {
  const y = yScale(e) + 11;
  const t = make('text', {x: 144, y: y, 'text-anchor': 'end', 'font-size': 29.5, class: 'tick-label'}, labelsG);
  
  
  if (e === 0) {
    t.textContent = '1';
  } else {
    const base = make('tspan', {}, t);
    base.textContent = '10';
    const sup = make('tspan', {dy: -11, 'font-size': 23}, t);
    sup.textContent = '\u2212' + Math.abs(e);
  }
});
</script>
</body>
</html>
